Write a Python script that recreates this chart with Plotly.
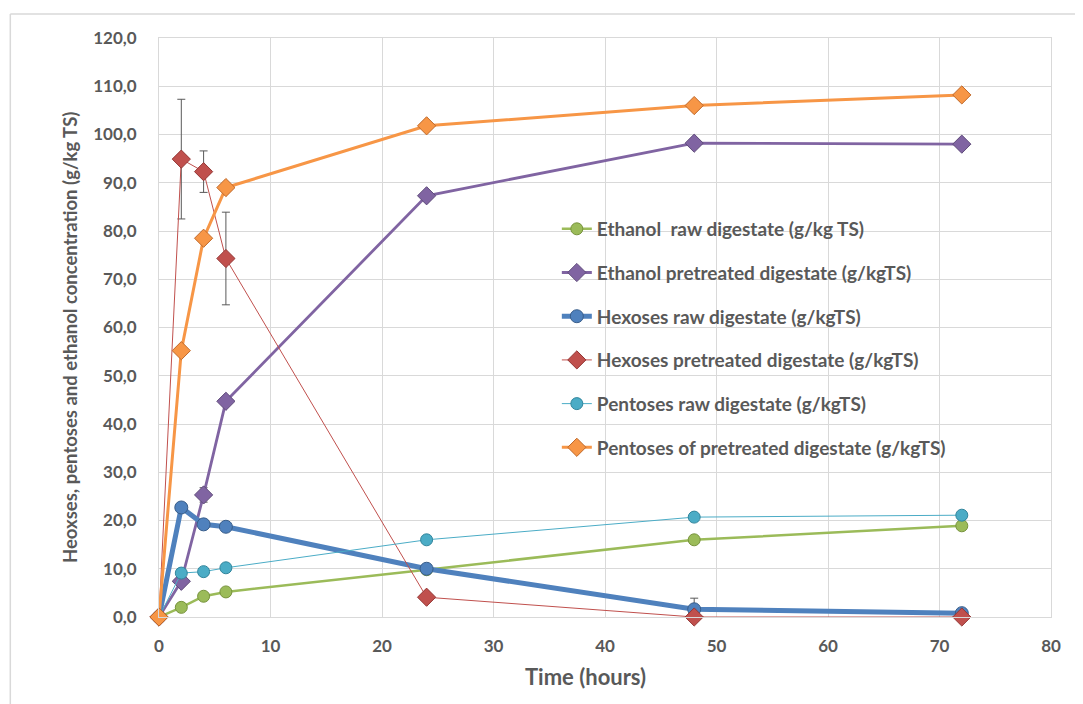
import plotly.graph_objects as go

time_h = [0, 2, 4, 6, 24, 48, 72]

ethanol_raw = [0, 2.0, 4.3, 5.2, 9.8, 16.0, 18.9]
ethanol_pre = [0, 7.4, 25.3, 44.7, 87.3, 98.2, 98.0]
hexoses_raw = [0, 22.7, 19.2, 18.7, 10.0, 1.6, 0.8]
hexoses_pre = [0, 94.9, 92.3, 74.3, 4.1, 0, 0]
pentoses_raw = [0, 9.1, 9.4, 10.2, 16.0, 20.7, 21.1]
pentoses_pre = [0, 55.2, 78.5, 89.0, 101.8, 106.0, 108.2]

err_ethanol_pre = [None, None, 1.5, None, None, None, None]
err_hexoses_raw = [None, None, None, 1.0, None, 2.3, None]
err_hexoses_pre = [None, 12.4, 4.3, 9.6, None, None, None]

names = [
    "Ethanol  raw digestate (g/kg TS)",
    "Ethanol pretreated digestate (g/kgTS)",
    "Hexoses raw digestate (g/kgTS)",
    "Hexoses pretreated digestate (g/kgTS)",
    "Pentoses raw digestate (g/kgTS)",
    "Pentoses of pretreated digestate (g/kgTS)",
]

FONT = "Lato"
TXT = "#595959"

series = [
    (ethanol_raw, names[0], "#9BBB59", "#77933C", 2.5, "circle", 12, None),
    (ethanol_pre, names[1], "#8064A2", "#5F4B7A", 2.8, "diamond", 14, err_ethanol_pre),
    (hexoses_raw, names[2], "#4F81BD", "#385D8A", 5, "circle", 13, err_hexoses_raw),
    (hexoses_pre, names[3], "#C0504D", "#943634", 1, "diamond", 14, err_hexoses_pre),
    (pentoses_raw, names[4], "#4BACC6", "#31859C", 1, "circle", 12, None),
    (pentoses_pre, names[5], "#F79646", "#C0692A", 3, "diamond", 14, None),
]

fig = go.Figure()
for i, (vals, nm, col, dcol, lw, sym, ms, err) in enumerate(series):
    kw = {}
    if err is not None:
        kw["error_y"] = dict(type="data", array=err, visible=True,
                             color="#595959", thickness=1, width=4)
    fig.add_trace(go.Scatter(
        x=time_h, y=vals, name=nm, mode="lines+markers",
        line=dict(color=col, width=lw),
        marker=dict(symbol=sym, size=ms, color=col,
                    line=dict(color=dcol, width=1)),
        legendgroup=f"g{i}", cliponaxis=False, **kw))

fig.update_layout(
    width=1083, height=704,
    paper_bgcolor="white", plot_bgcolor="white",
    margin=dict(l=151, r=40, t=30, b=95),
    separators=",.",
    font=dict(family=FONT, color=TXT),
    legend=dict(x=0.446, y=0.703, xanchor="left", yanchor="top",
                font=dict(family=FONT, size=19, color=TXT, weight="bold"),
                tracegroupgap=16, bgcolor="rgba(255,255,255,0)",
                itemwidth=30),
    xaxis=dict(range=[0, 80], dtick=10, showgrid=True, gridcolor="#D9D9D9",
               showline=True, linecolor="#D9D9D9", mirror=True,
               zeroline=False, ticks="", ticklabelstandoff=14,
               tickfont=dict(family=FONT, size=17, color=TXT, weight="bold")),
    yaxis=dict(range=[0, 120], dtick=10, tickformat=".1f",
               showgrid=True, gridcolor="#D9D9D9",
               showline=True, linecolor="#D9D9D9", mirror=True,
               zeroline=False, ticks="", ticklabelstandoff=18,
               tickfont=dict(family=FONT, size=17, color=TXT, weight="bold")),
    annotations=[
        dict(text="Time (hours)", xref="paper", yref="paper", x=0.4776, y=-0.102,
             xanchor="center", yanchor="middle", showarrow=False,
             font=dict(family=FONT, size=22, color=TXT, weight="bold")),
        dict(text="Heoxses, pentoses and ethanol concentration (g/kg TS)",
             xref="paper", yref="paper", x=-0.0998, y=0.4836, textangle=-90,
             xanchor="center", yanchor="middle", showarrow=False,
             font=dict(family=FONT, size=18.5, color=TXT, weight="bold")),
    ],
    shapes=[
        dict(type="line", xref="paper", yref="paper", x0=-0.1667, x1=1.036,
             y0=1.0414, y1=1.0414, line=dict(color="#D9D9D9", width=1.5)),
        dict(type="line", xref="paper", yref="paper", x0=-0.1667, x1=-0.1667,
             y0=1.0414, y1=-0.16, line=dict(color="#D9D9D9", width=1.5)),
    ],
)

fig.write_html("out.html")
